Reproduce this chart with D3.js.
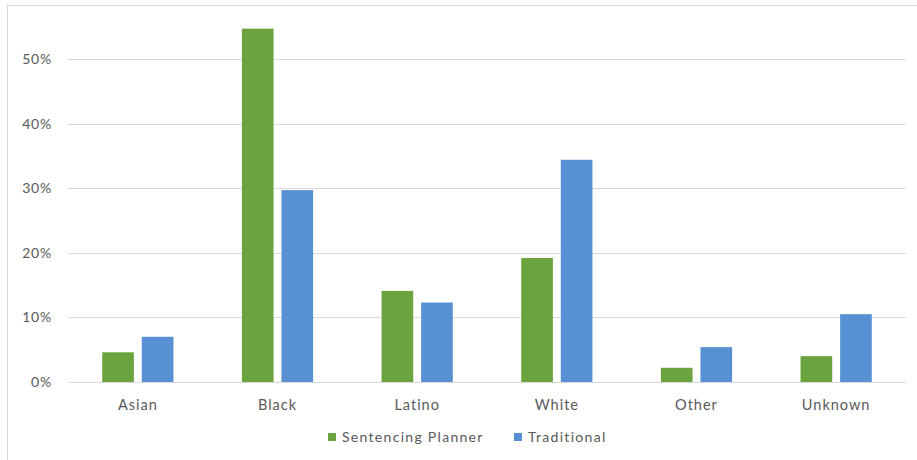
<!DOCTYPE html>
<html>
<head>
<meta charset="utf-8">
<script src="https://cdn.jsdelivr.net/npm/d3@7"></script>
<style>
  body { margin: 0; background: #fff; }
  svg { display: block; }
</style>
</head>
<body>
<svg id="chart" width="917" height="460"></svg>
<script>
// chart data
const categories = ["Asian", "Black", "Latino", "White", "Other", "Unknown"]
const seriesNames = ["Sentencing Planner", "Traditional"]
const plannerValues = [4.6, 54.7, 14.1, 19.2, 2.2, 4.0]
const traditionalValues = [7.0, 29.7, 12.3, 34.4, 5.4, 10.5]
const yTicks = [0, 10, 20, 30, 40, 50]

const colors = ["#6ba43e", "#5790d3"]
const fontFamily = "Lato, 'Open Sans', sans-serif"

const svg = d3.select("#chart")
const width = 917
const height = 460
const margin = { top: 28, right: 11, bottom: 78, left: 68 }

// outer chart border (only left and top edges show in the picture)
svg.append("rect")
    .attr("x", 7.5).attr("y", 5.5)
    .attr("width", width + 10).attr("height", height + 10)
    .attr("fill", "none")
    .attr("stroke", "#d9d9d9")

const x = d3.scaleBand()
    .domain(categories)
    .range([margin.left, width - margin.right])

const y = d3.scaleLinear()
    .domain([0, 50])
    .range([382, 59])

const inner = d3.scaleBand()
    .domain(seriesNames)
    .range([x.bandwidth() * 0.245, x.bandwidth() * 0.755])
    .paddingInner(0.2)

// gridlines
svg.append("g")
    .selectAll("line")
    .data(yTicks)
    .join("line")
    .attr("x1", margin.left)
    .attr("x2", width - margin.right)
    .attr("y1", d => Math.round(y(d)) + 0.5)
    .attr("y2", d => Math.round(y(d)) + 0.5)
    .attr("stroke", "#d9d9d9")
    .attr("stroke-width", 1)

// y axis labels
const yAxis = d3.axisLeft(y)
    .tickValues(yTicks)
    .tickFormat(d => d + "%")
    .tickSize(0)
    .tickPadding(0)

svg.append("g")
    .attr("transform", `translate(52,0)`)
    .call(yAxis)
    .call(g => g.select(".domain").remove())
    .selectAll("text")
    .attr("font-family", fontFamily)
    .attr("font-size", 14)
    .attr("letter-spacing", 0.8)
    .attr("fill", "#595959")

// bars
const rows = categories.map((c, i) => ({
    category: c,
    values: [plannerValues[i], traditionalValues[i]]
}))

const groups = svg.append("g")
    .selectAll("g")
    .data(rows)
    .join("g")
    .attr("transform", d => `translate(${x(d.category)},0)`)

groups.selectAll("rect")
    .data(d => d.values.map((v, j) => ({ name: seriesNames[j], value: v, idx: j })))
    .join("rect")
    .attr("x", d => inner(d.name))
    .attr("width", inner.bandwidth())
    .attr("y", d => y(d.value))
    .attr("height", d => y(0) - y(d.value))
    .attr("fill", d => colors[d.idx])

// category labels
const xAxis = d3.axisBottom(x).tickSize(0).tickPadding(0)
svg.append("g")
    .attr("transform", `translate(0,410)`)
    .call(xAxis)
    .call(g => g.select(".domain").remove())
    .selectAll("text")
    .attr("dy", 0)
    .attr("font-family", fontFamily)
    .attr("font-size", 14.5)
    .attr("letter-spacing", 1)
    .attr("fill", "#595959")

// legend
const legendItems = [
    { name: seriesNames[0], color: colors[0], x: 328 },
    { name: seriesNames[1], color: colors[1], x: 514 }
]
const legend = svg.append("g")
    .selectAll("g")
    .data(legendItems)
    .join("g")
    .attr("transform", d => `translate(${d.x},437)`)

legend.append("rect")
    .attr("x", 0).attr("y", -4)
    .attr("width", 8).attr("height", 8)
    .attr("fill", d => d.color)

legend.append("text")
    .attr("x", 14)
    .attr("dy", "0.35em")
    .attr("font-family", fontFamily)
    .attr("font-size", 14)
    .attr("letter-spacing", 1.3)
    .attr("fill", "#595959")
    .text(d => d.name)
</script>
</body>
</html>
